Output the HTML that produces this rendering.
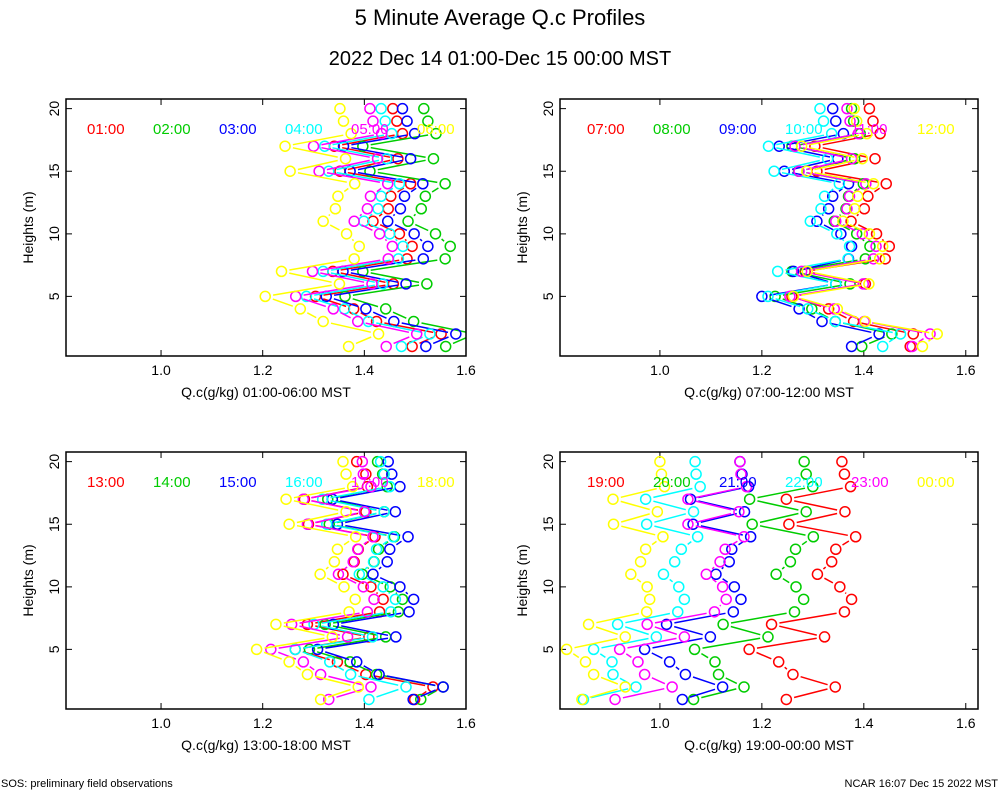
<!DOCTYPE html>
<html><head><meta charset="utf-8"><style>
html,body{margin:0;padding:0;background:#fff;}
svg{display:block;font-family:"Liberation Sans",sans-serif;}
</style></head><body>
<svg id="chart" width="1000" height="800" viewBox="0 0 1000 800" xmlns="http://www.w3.org/2000/svg">
<rect width="1000" height="800" fill="#fff"/>
<text x="500" y="25" font-size="22" text-anchor="middle">5 Minute Average Q.c Profiles</text>
<text x="500" y="65" font-size="20" text-anchor="middle">2022 Dec 14 01:00-Dec 15 00:00 MST</text>
<text x="1" y="787" font-size="11">SOS: preliminary field observations</text>
<text x="998" y="787" font-size="11" text-anchor="end">NCAR 16:07 Dec 15 2022 MST</text>
<g id="plots"></g>
</svg>
<script>
const heights = [20,19,18,17,16,15,14,13,12,11,10,9,8,7,6,5,4,3,2,1];
const xTicks = [1.0,1.2,1.4,1.6];
const yTicks = [5,10,15,20];
const colors = ["#ff0000","#00cc00","#0000ff","#00ffff","#ff00ff","#ffff00"];
const labels1 = ["01:00","02:00","03:00","04:00","05:00","06:00"];
const labels2 = ["07:00","08:00","09:00","10:00","11:00","12:00"];
const labels3 = ["13:00","14:00","15:00","16:00","17:00","18:00"];
const labels4 = ["19:00","20:00","21:00","22:00","23:00","00:00"];
const p1r=[1.456,1.464,1.475,1.341,1.466,1.352,1.491,1.452,1.447,1.417,1.469,1.494,1.484,1.338,1.457,1.304,1.379,1.424,1.551,1.494];
const p1g=[1.517,1.525,1.541,1.397,1.536,1.411,1.559,1.520,1.512,1.486,1.540,1.569,1.559,1.397,1.523,1.362,1.442,1.497,1.618,1.560];
const p1b=[1.475,1.484,1.499,1.359,1.491,1.372,1.515,1.479,1.471,1.446,1.498,1.525,1.516,1.358,1.482,1.325,1.403,1.458,1.580,1.521];
const p1c=[1.433,1.441,1.454,1.322,1.444,1.330,1.469,1.433,1.427,1.399,1.450,1.476,1.467,1.319,1.436,1.286,1.361,1.408,1.529,1.473];
const p1m=[1.411,1.417,1.434,1.300,1.426,1.311,1.446,1.412,1.406,1.380,1.430,1.455,1.447,1.298,1.415,1.265,1.339,1.387,1.503,1.443];
const p1y=[1.352,1.359,1.374,1.244,1.363,1.254,1.381,1.348,1.343,1.319,1.365,1.390,1.380,1.237,1.351,1.205,1.274,1.319,1.428,1.369];
const p2r=[1.411,1.418,1.432,1.304,1.422,1.308,1.444,1.408,1.401,1.375,1.425,1.450,1.442,1.285,1.403,1.259,1.331,1.380,1.497,1.491];
const p2g=[1.376,1.380,1.393,1.259,1.382,1.272,1.399,1.370,1.365,1.342,1.386,1.412,1.403,1.259,1.373,1.226,1.298,1.344,1.455,1.396];
const p2b=[1.339,1.345,1.360,1.234,1.349,1.244,1.370,1.339,1.331,1.308,1.355,1.376,1.370,1.262,1.345,1.200,1.273,1.318,1.430,1.376];
const p2c=[1.314,1.321,1.337,1.213,1.329,1.224,1.352,1.323,1.316,1.295,1.347,1.372,1.369,1.231,1.345,1.212,1.290,1.344,1.472,1.437];
const p2m=[1.367,1.373,1.389,1.265,1.376,1.273,1.404,1.372,1.367,1.345,1.397,1.424,1.419,1.278,1.399,1.255,1.342,1.401,1.530,1.495];
const p2y=[1.381,1.386,1.406,1.278,1.397,1.288,1.419,1.388,1.382,1.359,1.411,1.437,1.431,1.289,1.410,1.262,1.348,1.403,1.544,1.515];
const p3r=[1.385,1.403,1.406,1.282,1.403,1.290,1.421,1.388,1.380,1.358,1.413,1.437,1.430,1.288,1.409,1.264,1.347,1.403,1.535,1.499];
const p3g=[1.426,1.436,1.445,1.328,1.439,1.331,1.459,1.428,1.419,1.396,1.451,1.475,1.467,1.323,1.442,1.292,1.372,1.424,1.555,1.511];
const p3b=[1.447,1.454,1.470,1.337,1.461,1.347,1.486,1.450,1.445,1.417,1.470,1.497,1.488,1.339,1.462,1.308,1.385,1.429,1.555,1.496];
const p3c=[1.432,1.439,1.450,1.318,1.439,1.326,1.457,1.424,1.418,1.390,1.437,1.461,1.452,1.301,1.416,1.264,1.332,1.373,1.482,1.409];
const p3m=[1.396,1.398,1.413,1.280,1.400,1.288,1.417,1.387,1.378,1.349,1.398,1.419,1.406,1.257,1.367,1.216,1.280,1.314,1.413,1.330];
const p3y=[1.358,1.364,1.377,1.246,1.364,1.252,1.383,1.347,1.341,1.313,1.360,1.382,1.370,1.226,1.337,1.188,1.252,1.288,1.388,1.314];
const p4r=[1.357,1.362,1.374,1.248,1.363,1.253,1.384,1.345,1.337,1.309,1.353,1.376,1.362,1.219,1.323,1.175,1.233,1.261,1.344,1.248];
const p4g=[1.283,1.287,1.300,1.176,1.287,1.181,1.301,1.266,1.256,1.228,1.267,1.282,1.264,1.124,1.212,1.068,1.108,1.115,1.165,1.066];
const p4b=[1.157,1.161,1.174,1.060,1.166,1.065,1.178,1.141,1.136,1.110,1.146,1.159,1.144,1.013,1.099,0.970,1.019,1.050,1.123,1.044];
const p4c=[1.069,1.071,1.079,0.972,1.066,0.974,1.074,1.042,1.029,1.007,1.037,1.048,1.035,0.917,0.993,0.870,0.906,0.908,0.953,0.850];
const p4m=[1.157,1.159,1.170,1.055,1.155,1.055,1.165,1.128,1.118,1.091,1.123,1.130,1.107,0.975,1.048,0.921,0.957,0.970,1.024,0.912];
const p4y=[1.000,1.003,1.009,0.908,0.995,0.909,1.006,0.972,0.962,0.943,0.975,0.980,0.974,0.860,0.932,0.817,0.854,0.870,0.932,0.847];

const NS="http://www.w3.org/2000/svg";
const root=document.getElementById('plots');
function mk(tag,attrs,parent){const e=document.createElementNS(NS,tag);for(const k in attrs)e.setAttribute(k,attrs[k]);(parent||root).appendChild(e);return e;}

const panels=[
 {L:66,R:466,T:99,B:356,x0:0.813,x1:1.600,labels:labels1,series:[p1r,p1g,p1b,p1c,p1m,p1y],xl:"Q.c(g/kg) 01:00-06:00 MST",legX:87},
 {L:560,R:978,T:99,B:356,x0:0.804,x1:1.624,labels:labels2,series:[p2r,p2g,p2b,p2c,p2m,p2y],xl:"Q.c(g/kg) 07:00-12:00 MST",legX:587},
 {L:66,R:466,T:452,B:709,x0:0.813,x1:1.600,labels:labels3,series:[p3r,p3g,p3b,p3c,p3m,p3y],xl:"Q.c(g/kg) 13:00-18:00 MST",legX:87},
 {L:560,R:978,T:452,B:709,x0:0.804,x1:1.624,labels:labels4,series:[p4r,p4g,p4b,p4c,p4m,p4y],xl:"Q.c(g/kg) 19:00-00:00 MST",legX:587}
];
const yMin=0.24,yMax=20.77;
panels.forEach((p,pi)=>{
 const g=mk('g',{});
 
 
 const xs=v=>p.L+(v-p.x0)/(p.x1-p.x0)*(p.R-p.L);
 const ys=h=>p.B-(h-yMin)/(yMax-yMin)*(p.B-p.T);
 const cid='clip'+pi;
 const cp=mk('clipPath',{id:cid},g);mk('rect',{x:p.L,y:p.T,width:p.R-p.L,height:p.B-p.T},cp);
 // ticks
 xTicks.forEach(t=>{const x=xs(t);
  const tk=mk('path',{d:`M${x},${p.B}v-6M${x},${p.T}v6`,stroke:'#000','stroke-width':1},g);
  
  
  const tl=mk('text',{x:x,y:p.B+19,'font-size':14,'text-anchor':'middle'},g);tl.textContent=t.toFixed(1);
  
  
 });
 yTicks.forEach(t=>{const y=ys(t);
  const tk=mk('path',{d:`M${p.L},${y}h6M${p.R},${y}h-6`,stroke:'#000','stroke-width':1},g);
  
  
  const tl=mk('text',{x:0,y:0,'font-size':14,'text-anchor':'middle',transform:`translate(${p.L-7},${y}) rotate(-90)`},g);tl.textContent=t;
  
  
 });
 const yl=mk('text',{x:0,y:0,'font-size':14,'text-anchor':'middle',transform:`translate(${p.L-33},${(p.T+p.B)/2}) rotate(-90)`},g);yl.textContent='Heights (m)';
 
 
 const xl=mk('text',{x:(p.L+p.R)/2,y:p.B+41,'font-size':14,'text-anchor':'middle'},g);xl.textContent=p.xl;
 
 
 const data=mk('g',{'clip-path':`url(#${cid})`},g);
 p.series.forEach((s,si)=>{
  const sg=mk('g',{},data);
  
  
  const c=colors[si];
  let d='';
  for(let i=0;i<s.length-1;i++){
   const xa=xs(s[i]),ya=ys(heights[i]),xb=xs(s[i+1]),yb=ys(heights[i+1]);
   const dx=xb-xa,dy=yb-ya,len=Math.hypot(dx,dy),gap=8;
   if(len>2*gap+1){const ux=dx/len,uy=dy/len;
    d+=`M${(xa+ux*gap).toFixed(1)},${(ya+uy*gap).toFixed(1)}L${(xb-ux*gap).toFixed(1)},${(yb-uy*gap).toFixed(1)}`;}
  }
  mk('path',{d:d,stroke:c,'stroke-width':1.5,fill:'none'},sg);
  s.forEach((v,i)=>{
   const pt=mk('circle',{cx:xs(v),cy:ys(heights[i]),r:5,fill:'none',stroke:c,'stroke-width':1.5},sg);
   
   
  });
 });
 p.labels.forEach((lb,i)=>{
  const t=mk('text',{x:p.legX+i*66,y:p.T+35,'font-size':15,fill:colors[i]},g);t.textContent=lb;
  
  
 });
 const fr=mk('rect',{x:p.L,y:p.T,width:p.R-p.L,height:p.B-p.T,fill:'none',stroke:'#000','stroke-width':1.5},g);
 
 
});
</script>
</body></html>
